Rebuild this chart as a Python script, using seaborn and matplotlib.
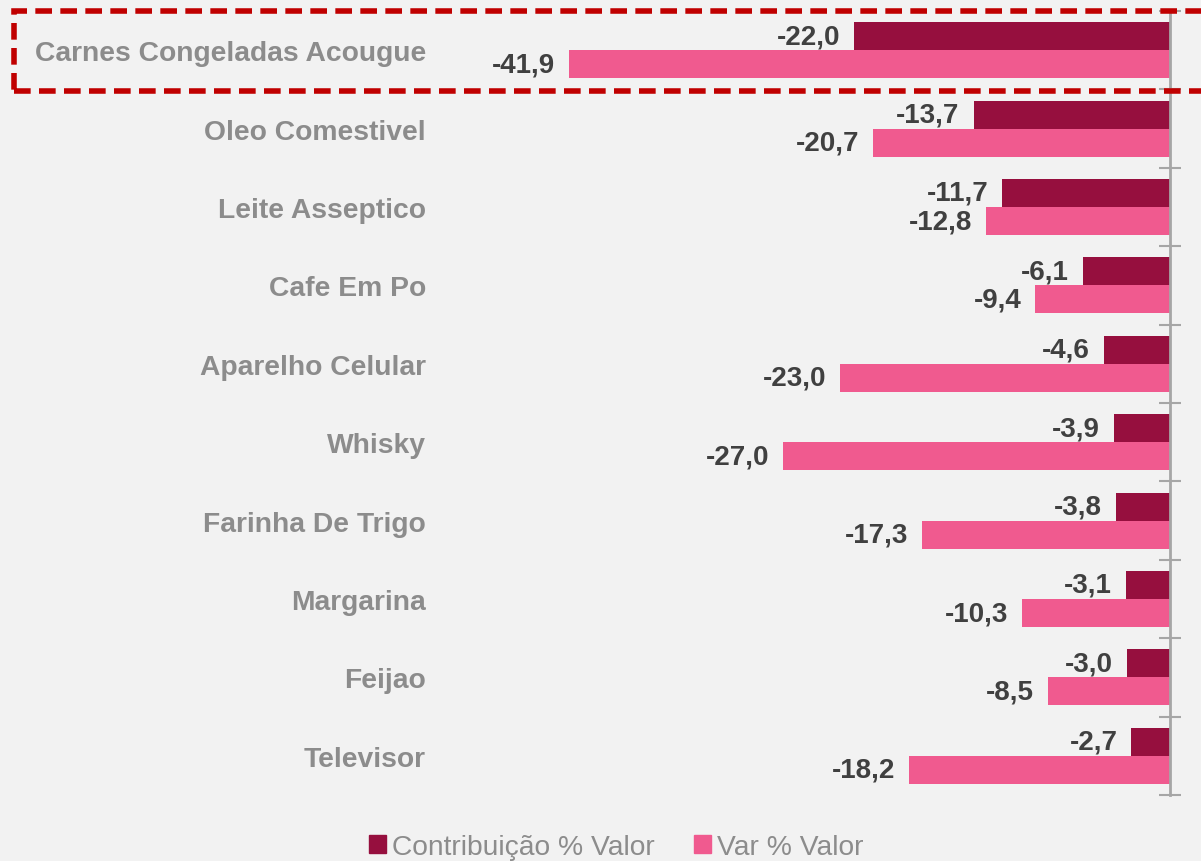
import matplotlib.pyplot as plt
import seaborn as sns
import pandas as pd
from matplotlib.patches import Rectangle
from matplotlib.ticker import FixedLocator

# Chart data
categories = ["Carnes Congeladas Acougue", "Oleo Comestivel", "Leite Asseptico",
              "Cafe Em Po", "Aparelho Celular", "Whisky", "Farinha De Trigo",
              "Margarina", "Feijao", "Televisor"]
contribuicao = [-22.0, -13.7, -11.7, -6.1, -4.6, -3.9, -3.8, -3.1, -3.0, -2.7]
var_valor = [-41.9, -20.7, -12.8, -9.4, -23.0, -27.0, -17.3, -10.3, -8.5, -18.2]
series_names = ["Contribuição % Valor", "Var % Valor"]
colors = ["#960f3e", "#f05a8f"]

df = pd.DataFrame({
    "categoria": categories * 2,
    "valor": contribuicao + var_valor,
    "serie": [series_names[0]] * len(categories) + [series_names[1]] * len(categories),
})

sns.set_style("white")
plt.rcParams['font.family'] = ['Liberation Sans', 'DejaVu Sans']

fig = plt.figure(figsize=(12.01, 8.62), dpi=100, facecolor="#f2f2f2")
ax = fig.add_axes([440 / 1201, 1 - 796 / 862, 730 / 1201, 784 / 862])
ax.set_facecolor("#f2f2f2")

sns.barplot(data=df, y="categoria", x="valor", hue="serie", orient="h",
            palette=colors, width=0.715, saturation=1, linewidth=0,
            ax=ax, legend=False)

for cont in ax.containers:
    ax.bar_label(cont, labels=[f"{v:.1f}".replace(".", ",") for v in cont.datavalues],
                 padding=10, fontsize=20, fontweight="bold", color="#404040")

ax.set_xlim(-50.9, 0)
ax.set_ylim(len(categories) - 0.5, -0.5)
ax.set_xlabel("")
ax.set_ylabel("")
ax.set_xticks([])

for s in ["top", "bottom", "left"]:
    ax.spines[s].set_visible(False)
ax.spines["right"].set_color("#a6a6a6")
ax.spines["right"].set_linewidth(2)

ax.tick_params(axis="y", which="major", length=0, pad=10, labelsize=20.3,
               labelcolor="#8c8c8c")
for lbl in ax.get_yticklabels():
    lbl.set_fontweight("bold")
ax.yaxis.set_minor_locator(FixedLocator([i - 0.5 for i in range(len(categories) + 1)]))
ax.tick_params(axis="y", which="minor", left=False, right=True, length=16,
               width=1.5, direction="inout", color="#a6a6a6")

# legend
handles = [Rectangle((0, 0), 1, 1, color=c) for c in colors]
fig.legend(handles, series_names, loc="center", bbox_to_anchor=(0.513, 1 - 848 / 862),
           ncol=2, frameon=False, fontsize=20.3, labelcolor="#8c8c8c",
           handlelength=0.6, handleheight=0.6, handletextpad=0.2, columnspacing=1.4)

# highlight box around first category
fig.patches.append(Rectangle((14 / 1201, 1 - 92 / 862), 1200 / 1201, 80 / 862,
                             transform=fig.transFigure, fill=False, edgecolor="#c00000",
                             linewidth=4, linestyle=(0, (3, 1.5)), zorder=10))

fig.savefig("out.png", dpi=100, facecolor=fig.get_facecolor())
